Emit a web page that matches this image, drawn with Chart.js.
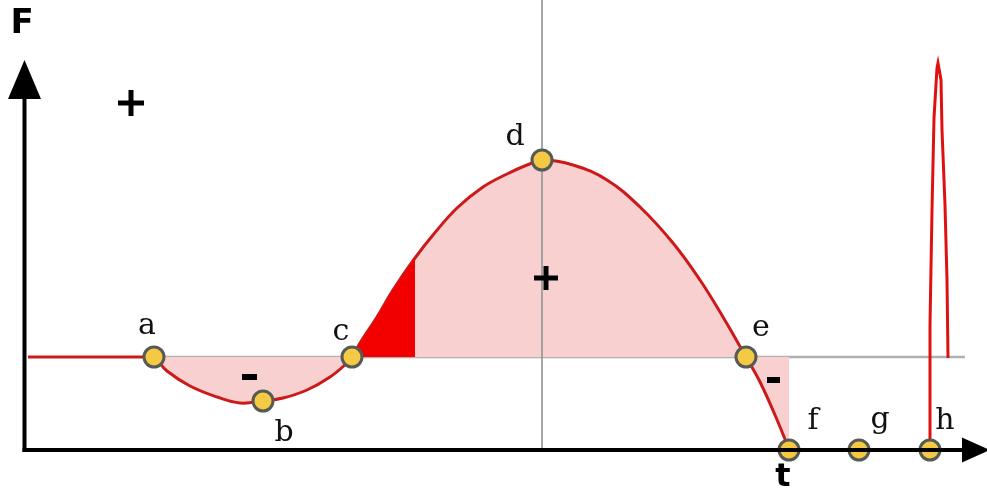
<!DOCTYPE html>
<html>
<head>
<meta charset="utf-8">
<script src="https://cdn.jsdelivr.net/npm/chart.js@4/dist/chart.umd.min.js"></script>
<style>
    html, body { margin: 0; padding: 0; background: #fff; }
    #wrap { width: 987px; height: 497px; position: relative; }
</style>
</head>
<body>
<div id="wrap"><canvas id="chart"></canvas></div>

<script>
    // force curve F(t), zero line is F = 0
    var curveT = [28, 90, 140, 153, 167, 190, 217, 240, 263, 283, 307, 330, 347, 352, 360, 377, 393, 415, 433, 457, 483, 507, 527, 543, 573, 607, 640, 673, 700, 723, 746, 760, 775, 789];
    var curveF = [0, 0, 0, 0, -14, -29, -40, -46, -44, -41, -33, -20, -6, 0, 14, 40, 67, 99, 122, 149, 170, 183, 192, 197, 192, 177, 150, 114, 77, 40, 0, -25, -58, -92];

    // solid red part right after c
    var redT = [352, 360, 377, 393, 415];
    var redF = [0, 14, 40, 67, 99];

    // impulse spike at h
    var spikeT = [930, 930, 932, 934, 937, 938, 941, 942, 945, 947, 948];
    var spikeF = [-93, 32, 147, 239, 289, 294, 277, 227, 152, 77, -1];

    // marked points
    var pointNames = ['a', 'b', 'c', 'd', 'e', 'f', 'g', 'h'];
    var pointT = [154, 263, 352, 542, 746, 789, 859, 930];
    var pointF = [0, -44, 0, 197, 0, -93, -93, -93];

    var axisF = -93;      // t axis
    var axisT = 24.5;     // F axis
    var zeroEndT = 965;
    var midT = 542;

    function xy(ts, fs) {
        return ts.map(function (t, i) { return { x: t, y: fs[i] }; });
    }

    // label offsets from the point centre (pixels)
    var labelOffsets = [[-7, -31], [21, 32], [-11, -25], [-27, -23], [15, -29], [24, -29], [21, -30], [15, -29]];

    var decor = {
        id: 'decor',
        beforeDatasetsDraw: function (chart) {
            var ctx = chart.ctx, sx = chart.scales.x, sy = chart.scales.y;
            ctx.save();
            // grey zero line
            ctx.strokeStyle = '#b0b0b0';
            ctx.lineWidth = 2.5;
            ctx.beginPath();
            ctx.moveTo(sx.getPixelForValue(154), sy.getPixelForValue(0));
            ctx.lineTo(sx.getPixelForValue(zeroEndT), sy.getPixelForValue(0));
            ctx.stroke();
            ctx.restore();
        },
        afterDatasetsDraw: function (chart) {
            var ctx = chart.ctx, sx = chart.scales.x, sy = chart.scales.y;
            var ax = sx.getPixelForValue(axisT), ay = sy.getPixelForValue(axisF);
            ctx.save();
            ctx.fillStyle = '#000';
            ctx.strokeStyle = '#000';
            ctx.lineWidth = 4;
            // F axis
            ctx.beginPath();
            ctx.moveTo(ax, ay + 2);
            ctx.lineTo(ax, 99);
            ctx.stroke();
            ctx.beginPath();
            ctx.moveTo(ax, 60);
            ctx.lineTo(ax + 16.5, 99);
            ctx.lineTo(ax - 16.5, 99);
            ctx.closePath();
            ctx.fill();
            // t axis
            ctx.beginPath();
            ctx.moveTo(ax - 2, ay);
            ctx.lineTo(964, ay);
            ctx.stroke();
            ctx.beginPath();
            ctx.moveTo(990, ay);
            ctx.lineTo(962, ay - 12.5);
            ctx.lineTo(962, ay + 12.5);
            ctx.closePath();
            ctx.fill();

            // axis names
            ctx.textAlign = 'center';
            ctx.textBaseline = 'middle';
            ctx.font = 'bold 34px "DejaVu Sans"';
            ctx.fillText('F', 22, 24);
            ctx.font = 'bold 32px "DejaVu Sans"';
            ctx.fillText('t', 783, 478);

            // signs
            function plus(cx, cy, s) {
                ctx.fillRect(cx - s, cy - 2.5, 2 * s, 5);
                ctx.fillRect(cx - 2.5, cy - s, 5, 2 * s);
            }
            plus(131, 103, 13);
            plus(546, 278, 12);
            ctx.fillRect(242, 374, 15, 6);
            ctx.fillRect(767, 377, 13, 6);

            // point names
            ctx.font = '30px "DejaVu Serif"';
            ctx.fillStyle = '#111';
            pointNames.forEach(function (n, i) {
                var px = sx.getPixelForValue(pointT[i]), py = sy.getPixelForValue(pointF[i]);
                ctx.fillText(n, px + labelOffsets[i][0], py + labelOffsets[i][1]);
            });
            ctx.restore();
        }
    };

    var ctx = document.getElementById('chart').getContext('2d');
    var config = {
        type: 'scatter',
        data: {
            datasets: [{
                data: xy(pointT, pointF),
                showLine: false,
                pointRadius: 10,
                pointHoverRadius: 10,
                pointBackgroundColor: '#f6c944',
                pointBorderColor: '#555a55',
                pointBorderWidth: 3,
                order: 0
            }, {
                data: xy([midT, midT], [357, axisF]),
                showLine: true,
                borderColor: '#9a9a9a',
                borderWidth: 1,
                pointRadius: 0,
                order: 0.5
            }, {
                data: xy(redT, redF),
                showLine: true,
                borderWidth: 0,
                borderColor: 'rgba(0,0,0,0)',
                backgroundColor: '#f20000',
                fill: 'origin',
                pointRadius: 0,
                tension: 0,
                order: 1
            }, {
                data: xy(curveT, curveF),
                showLine: true,
                borderColor: '#cc1a1a',
                borderWidth: 3,
                backgroundColor: '#f9d0d0',
                fill: 'origin',
                pointRadius: 0,
                tension: 0.4,
                order: 2
            }, {
                data: xy(spikeT, spikeF),
                showLine: true,
                borderColor: '#e01010',
                borderWidth: 3,
                pointRadius: 0,
                tension: 0,
                order: 2
            }]
        },
        options: {
            responsive: true,
            maintainAspectRatio: false,
            animation: false,
            layout: { padding: 0, autoPadding: false },
            plugins: { legend: { display: false }, tooltip: { enabled: false } },
            scales: {
                x: { type: 'linear', min: 0, max: 987, display: false },
                y: { type: 'linear', min: -140, max: 357, display: false }
            }
        },
        plugins: [decor]
    };

    var chart = new Chart(ctx, config);
</script>
</body>
</html>
